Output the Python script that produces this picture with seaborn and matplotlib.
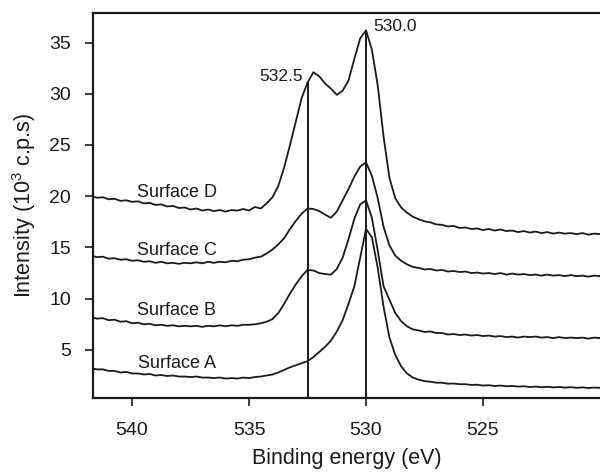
import numpy as np
import pandas as pd
import matplotlib
matplotlib.use("Agg")
import matplotlib.pyplot as plt
import seaborn as sns

# Binding energy grid (eV), 0.25 eV steps from 541.75 down to 520.0
energy = np.round(np.arange(541.75, 519.99, -0.25), 2)

surface_d = [
    20.0, 19.85, 19.9, 19.7, 19.75, 19.55, 19.6, 19.45,
    19.5, 19.3, 19.35, 19.15, 19.2, 19.0, 19.05, 18.85,
    18.9, 18.7, 18.8, 18.6, 18.7, 18.55, 18.65, 18.5,
    18.65, 18.6, 18.75, 18.6, 18.95, 18.8, 19.3, 19.9,
    21.0, 22.8, 25.0, 27.3, 29.6, 31.1, 32.1, 31.7,
    31.0, 30.5, 29.9, 30.3, 31.3, 33.4, 35.4, 36.2,
    34.3, 30.8, 25.8, 21.8, 19.8, 18.9, 18.4, 18.0,
    17.75, 17.55, 17.45, 17.25, 17.2, 17.05, 17.1, 16.9,
    16.95, 16.8, 16.85, 16.7, 16.8, 16.65, 16.75, 16.6,
    16.65, 16.5, 16.6, 16.45, 16.55, 16.4, 16.5, 16.35,
    16.45, 16.35, 16.4, 16.3, 16.4, 16.25, 16.35, 16.3,
]
surface_c = [
    14.2, 14.05, 14.1, 13.9, 13.95, 13.8, 13.85, 13.7,
    13.75, 13.6, 13.65, 13.5, 13.6, 13.45, 13.5, 13.4,
    13.5, 13.45, 13.55, 13.45, 13.6, 13.5, 13.6, 13.55,
    13.7, 13.65, 13.8, 13.85, 14.0, 14.1, 14.4, 14.8,
    15.3, 15.9, 16.8, 17.6, 18.3, 18.8, 18.75, 18.55,
    18.2, 17.9, 18.5, 19.6, 20.7, 21.9, 22.9, 23.3,
    22.0, 19.8, 17.0, 15.2, 14.2, 13.7, 13.35, 13.1,
    13.0, 12.85, 12.9, 12.75, 12.8, 12.65, 12.7, 12.6,
    12.65, 12.5, 12.55, 12.45, 12.5, 12.4, 12.5, 12.35,
    12.45, 12.35, 12.4, 12.3, 12.35, 12.25, 12.35, 12.25,
    12.3, 12.2, 12.3, 12.2, 12.25, 12.15, 12.25, 12.2,
]
surface_b = [
    8.2, 8.05, 8.1, 7.9, 7.95, 7.75, 7.8, 7.6,
    7.65, 7.5, 7.55, 7.4, 7.45, 7.35, 7.4, 7.3,
    7.35, 7.3, 7.35, 7.25, 7.35, 7.3, 7.4, 7.3,
    7.4, 7.35, 7.45, 7.45, 7.5, 7.6, 7.75, 8.0,
    8.6, 9.5, 10.5, 11.4, 12.2, 12.8, 12.75, 12.5,
    12.4, 12.35, 12.9, 14.0, 15.8, 17.8, 19.2, 19.6,
    17.9, 14.7, 11.2, 9.9, 8.6, 7.8, 7.3, 7.0,
    6.9, 6.75, 6.8, 6.65, 6.65, 6.5, 6.55, 6.45,
    6.5, 6.4, 6.45, 6.35, 6.4, 6.3, 6.35, 6.25,
    6.3, 6.2, 6.3, 6.25, 6.3, 6.2, 6.25, 6.15,
    6.25, 6.15, 6.2, 6.15, 6.2, 6.1, 6.2, 6.15,
]
surface_a = [
    3.2, 3.1, 3.1, 2.95, 2.95, 2.8, 2.85, 2.7,
    2.7, 2.6, 2.65, 2.5, 2.55, 2.45, 2.5, 2.4,
    2.4, 2.35, 2.4, 2.3, 2.3, 2.25, 2.3, 2.2,
    2.25, 2.2, 2.3, 2.25, 2.35, 2.4, 2.5, 2.6,
    2.8, 3.05, 3.3, 3.5, 3.7, 3.9, 4.3, 4.8,
    5.3, 5.9, 6.8, 7.9, 9.5, 11.2, 14.0, 16.8,
    16.0, 13.0, 9.2, 6.2, 4.5, 3.4, 2.7, 2.3,
    2.1, 1.95, 1.9, 1.8, 1.8, 1.7, 1.72, 1.65,
    1.65, 1.58, 1.6, 1.52, 1.55, 1.48, 1.52, 1.45,
    1.48, 1.42, 1.45, 1.38, 1.42, 1.36, 1.4, 1.34,
    1.38, 1.32, 1.36, 1.3, 1.34, 1.28, 1.32, 1.3,
]

surface_names = ["Surface A", "Surface B", "Surface C", "Surface D"]
label_x = [538.1, 538.1, 538.1, 538.1]
label_y = [3.7, 8.8, 14.7, 20.4]

peak_positions = [532.5, 530.0]
peak_tops = [31.1, 36.2]
peak_labels = ["532.5", "530.0"]

x_ticks = [540, 535, 530, 525]
y_ticks = [5, 10, 15, 20, 25, 30, 35]

sns.set_theme(style="ticks")
plt.rcParams["font.family"] = ["Liberation Sans", "DejaVu Sans"]
plt.rcParams["mathtext.fontset"] = "custom"
plt.rcParams["mathtext.rm"] = "Liberation Sans"
plt.rcParams["mathtext.it"] = "Liberation Sans:italic"

rows = []
for name, vals in zip(surface_names, [surface_a, surface_b, surface_c, surface_d]):
    rows.append(pd.DataFrame({"energy": energy, "intensity": vals, "surface": name}))
df = pd.concat(rows, ignore_index=True)

fig = plt.figure(figsize=(6.0, 4.75), dpi=100)
ax = fig.add_axes([0.155, 0.162, 0.845, 0.811])

ink = "#1a1a1a"
sns.lineplot(data=df, x="energy", y="intensity", hue="surface",
             palette={n: ink for n in surface_names}, legend=False,
             linewidth=1.3, ax=ax, estimator=None, sort=True)

ax.vlines(peak_positions, 0.3, peak_tops, color=ink, linewidth=1.4)

# x axis is inverted: larger eV is to the left
ax.text(peak_positions[0] + 0.2, peak_tops[0] + 0.1, peak_labels[0],
        ha="right", va="baseline", fontsize=12.5, color=ink)
ax.text(peak_positions[1] - 0.3, peak_tops[1] - 0.1, peak_labels[1],
        ha="left", va="baseline", fontsize=12.5, color=ink)

for name, lx, ly in zip(surface_names, label_x, label_y):
    ax.text(lx, ly, name, ha="center", va="center", fontsize=13, color=ink)

ax.set_xlim(541.67, 520.0)
ax.set_ylim(0.3, 37.9)
ax.set_xticks(x_ticks)
ax.set_yticks(y_ticks)
ax.tick_params(axis="both", direction="out", length=6, width=1.2,
               labelsize=14, colors=ink)
ax.tick_params(axis="x", pad=11)
ax.tick_params(axis="y", pad=10)

ax.set_xlabel("Binding energy (eV)", fontsize=15.5, labelpad=7, color=ink)
ax.set_ylabel(r"Intensity (10$^{3}$ c.p.s)", fontsize=15.5, labelpad=8, color=ink)

for side in ["left", "bottom", "top"]:
    ax.spines[side].set_visible(True)
    ax.spines[side].set_linewidth(1.6)
    ax.spines[side].set_color(ink)
ax.spines["right"].set_visible(False)

fig.savefig("out.png", dpi=100)
